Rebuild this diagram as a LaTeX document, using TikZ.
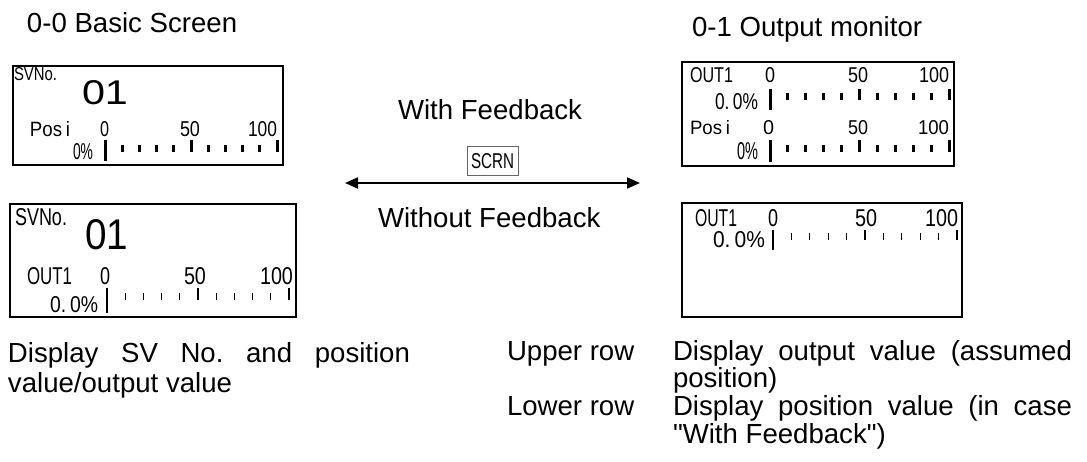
\documentclass[tikz,border=0pt]{standalone}
\usepackage{fontspec}
\usepackage{graphicx}
\setmainfont{Liberation Sans}
\newfontfamily\lcdfont{Liberation Sans}
\newfontfamily\plainfont{Liberation Sans}
\usetikzlibrary{arrows.meta}
\frenchspacing
\newcommand\lcdt[3]{\resizebox{#1pt}{#2pt}{\lcdfont #3}}
\newcommand\drawscale[7]{%
  \foreach \k in {1,2,3,4,6,7,8,9}{\draw[line width=#7] ({#1+\k*#2},#4) -- ({#1+\k*#2},#5);}
  \draw[line width=#7] (#1,#3) -- (#1,#6);
  \draw[line width=#7] ({#1+5*#2},#3) -- ({#1+5*#2},#5);
  \draw[line width=#7] ({#1+10*#2},#3) -- ({#1+10*#2},#5);
}
\tikzset{
  lcd/.style={anchor=base west, inner sep=0pt, outer sep=0pt},
  txt/.style={anchor=base west, inner sep=0pt, outer sep=0pt, font=\plainfont\fontsize{27.6}{30}\selectfont},
  screen/.style={draw, line width=2.5pt},
  link/.style={line width=2pt, {Triangle[length=13pt,width=11pt]}-{Triangle[length=13pt,width=11pt]}},
}
\begin{document}
\begin{tikzpicture}[x=1pt,y=-1pt]
\useasboundingbox (0,0) rectangle (1087,462);
% titles
\node[txt] (t0) at (27,33) {0-0 Basic Screen};
\node[txt] (t1) at (692,37) {0-1 Output monitor};
% box 1
\draw[screen] (13,66) rectangle (283,165);
\node[lcd] (b1sv) at (14,81) {\lcdt{43}{13}{SVNo.}};
\node[lcd] (b1no) at (82,105) {\lcdt{46}{24}{01}};
\node[lcd] (b1p) at (30,137) {\lcdt{40}{15}{Pos\kern2pt i}};
\node[lcd] (b1a) at (100,137) {\lcdt{9}{15}{0}};
\node[lcd] (b1b) at (180,137) {\lcdt{20}{15}{50}};
\node[lcd] (b1c) at (248,137) {\lcdt{29}{15}{100}};
\node[lcd] (b1d) at (73,160) {\lcdt{20}{16}{0\%}};
\drawscale{105}{17.2}{140}{145}{152}{161}{3pt}
% box 3
\draw[screen] (10,204) rectangle (296,317);
\node[lcd] (b3sv) at (15,226) {\lcdt{52}{17}{SVNo.}};
\node[lcd] (b3no) at (85,250) {\lcdt{43}{30}{01}};
\node[lcd] (b3o) at (27,285) {\lcdt{45}{17}{OUT1}};
\node[lcd] (b3a) at (100,285) {\lcdt{10}{17}{0}};
\node[lcd] (b3b) at (184,285) {\lcdt{22}{17}{50}};
\node[lcd] (b3c) at (260,285) {\lcdt{33}{17}{100}};
\node[lcd] (b3d) at (50,313) {\lcdt{48}{16}{0.\kern2pt 0\%}};
\drawscale{107}{18.2}{288}{293}{300}{313}{1.3pt}
% box 2
\draw[screen] (682,62) rectangle (954,166);
\node[lcd] (b2o) at (690,83) {\lcdt{43}{15}{OUT1}};
\node[lcd] (b2a) at (765,83) {\lcdt{10}{15}{0}};
\node[lcd] (b2b) at (848,83) {\lcdt{20}{15}{50}};
\node[lcd] (b2c) at (919,83) {\lcdt{30}{15}{100}};
\node[lcd] (b2d) at (715,110) {\lcdt{43}{16}{0.\kern2pt 0\%}};
\drawscale{770}{17.9}{89}{93}{100}{110}{3pt}
\node[lcd] (b2p) at (690,135) {\lcdt{40}{14}{Pos\kern2pt i}};
\node[lcd] (b2e) at (763,135) {\lcdt{11}{14}{0}};
\node[lcd] (b2f) at (848,135) {\lcdt{20}{14}{50}};
\node[lcd] (b2g) at (918,135) {\lcdt{31}{14}{100}};
\node[lcd] (b2h) at (737,160) {\lcdt{21}{17}{0\%}};
\drawscale{770}{17.9}{140}{145}{152}{162}{3pt}
% box 4
\draw[screen] (682,203) rectangle (962,317);
\node[lcd] (b4o) at (695,227) {\lcdt{42}{17}{OUT1}};
\node[lcd] (b4a) at (768,227) {\lcdt{10}{17}{0}};
\node[lcd] (b4b) at (855,227) {\lcdt{22}{17}{50}};
\node[lcd] (b4c) at (925,227) {\lcdt{33}{17}{100}};
\node[lcd] (b4d) at (713,248) {\lcdt{52}{16}{0.\kern2pt 0\%}};
\drawscale{773}{18.4}{230}{233}{240}{250}{1.3pt}
% middle
\node[txt] (wf) at (398,120) {With Feedback};
\node[draw=black!60, line width=1pt, minimum width=51pt, minimum height=29pt, inner sep=0pt] (scrn) at (492.5,161.5) {\lcdt{43}{15}{SCRN}};
\coordinate (aL) at (345,183);
\coordinate (aR) at (640,183);
\draw[link] (aL) -- (aR);
\node[txt] (wof) at (378,228) {Without Feedback};
% bottom texts
\node[txt] (d1) at (8,362) {\makebox[402pt][s]{Display SV No. and position}};
\node[txt] (d2) at (8,392) {value/output value};
\node[txt] (u) at (507,360) {Upper row};
\node[txt] (u1) at (673,360) {\makebox[399pt][s]{Display output value (assumed}};
\node[txt] (u2) at (673,387) {position)};
\node[txt] (l) at (507,415) {Lower row};
\node[txt] (l1) at (673,415) {\makebox[399pt][s]{Display position value (in case}};
\node[txt] (l2) at (673,443) {"With Feedback")};
\end{tikzpicture}
\end{document}
